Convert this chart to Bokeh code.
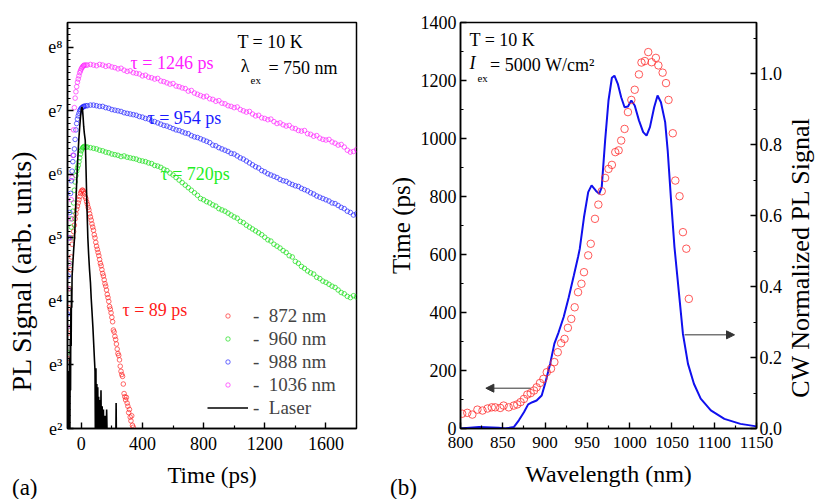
import math
from bokeh.plotting import figure
from bokeh.models import (Range1d, LinearAxis, FixedTicker, Label, Legend, LegendItem,
                          Arrow, NormalHead, PrintfTickFormatter, Div)
from bokeh.layouts import row, column
from bokeh.embed import file_html
from bokeh.resources import INLINE

FONT = "Liberation Serif"
NB = "\u00a0"

# ---------------- panel (a): ln(PL signal) vs time ----------------
t_rise = [-90, -85, -80, -75, -70, -65, -60, -55, -50, -45, -40, -35, -30, -25, -20, -15,
          -10, -5, 0, 5, 10, 15, 20, 30]
t_tail = [40, 60, 80, 100, 120, 140, 160, 180, 200, 220,
          240, 260, 280, 300, 320, 340, 360, 380, 400, 420,
          440, 460, 480, 500, 520, 540, 560, 580, 600, 620,
          640, 660, 680, 700, 720, 740, 760, 780, 800, 820,
          840, 860, 880, 900, 920, 940, 960, 980, 1000, 1020,
          1040, 1060, 1080, 1100, 1120, 1140, 1160, 1180, 1200, 1220,
          1240, 1260, 1280, 1300, 1320, 1340, 1360, 1380, 1400, 1420,
          1440, 1460, 1480, 1500, 1520, 1540, 1560, 1580, 1600, 1620,
          1640, 1660, 1680, 1700, 1720, 1740, 1760, 1780, 1800]

nm1036_rise = [3.6, 4.2, 4.6, 5.0, 5.3, 5.6, 5.95, 6.3, 6.7, 7.05, 7.2, 7.3, 7.38, 7.45, 7.5,
               7.55, 7.6, 7.63, 7.66, 7.68, 7.7, 7.71, 7.72, 7.72]
nm1036_tail = [7.72, 7.73, 7.72, 7.71, 7.73, 7.72, 7.70, 7.71, 7.69, 7.68,
               7.66, 7.67, 7.64, 7.62, 7.63, 7.60, 7.59, 7.58, 7.55, 7.56,
               7.53, 7.52, 7.50, 7.51, 7.47, 7.46, 7.44, 7.42, 7.43, 7.39,
               7.38, 7.36, 7.35, 7.31, 7.32, 7.28, 7.26, 7.24, 7.22, 7.23,
               7.19, 7.18, 7.15, 7.16, 7.12, 7.11, 7.08, 7.07, 7.05, 7.06,
               7.02, 7.00, 6.98, 6.99, 6.95, 6.92, 6.93, 6.89, 6.88, 6.86,
               6.87, 6.83, 6.80, 6.81, 6.78, 6.76, 6.77, 6.73, 6.72, 6.69,
               6.68, 6.69, 6.64, 6.63, 6.60, 6.61, 6.57, 6.55, 6.54, 6.55,
               6.51, 6.49, 6.46, 6.47, 6.43, 6.38, 6.35, 6.36, 6.39]

nm988_rise = [3.8, 4.4, 5.0, 5.4, 5.7, 5.9, 6.05, 6.2, 6.3, 6.4, 6.55, 6.7, 6.8, 6.87, 6.92,
              6.96, 7.0, 7.02, 7.04, 7.05, 7.06, 7.07, 7.07, 7.08]
nm988_tail = [7.08, 7.09, 7.09, 7.08, 7.07, 7.07, 7.05, 7.04, 7.02, 7.01,
              7.00, 6.99, 6.97, 6.96, 6.95, 6.94, 6.93, 6.91, 6.90, 6.88,
              6.87, 6.84, 6.83, 6.81, 6.79, 6.77, 6.76, 6.74, 6.72, 6.70,
              6.69, 6.67, 6.65, 6.64, 6.61, 6.59, 6.58, 6.56, 6.54, 6.52,
              6.50, 6.46, 6.45, 6.42, 6.40, 6.38, 6.36, 6.33, 6.32, 6.29,
              6.26, 6.24, 6.21, 6.18, 6.15, 6.12, 6.10, 6.06, 6.04, 6.01,
              5.99, 5.97, 5.95, 5.92, 5.90, 5.89, 5.86, 5.84, 5.82, 5.81,
              5.78, 5.76, 5.74, 5.71, 5.69, 5.66, 5.64, 5.62, 5.60, 5.58,
              5.55, 5.54, 5.51, 5.48, 5.46, 5.42, 5.40, 5.36, 5.38]

nm960_rise = [3.2, 3.6, 4.2, 4.6, 5.0, 5.17, 5.3, 5.42, 5.55, 5.75, 5.88, 5.98, 6.05, 6.1,
              6.14, 6.2, 6.26, 6.32, 6.37, 6.4, 6.42, 6.43, 6.44, 6.43]
nm960_tail = [6.43, 6.42, 6.41, 6.40, 6.38, 6.37, 6.35, 6.34, 6.32, 6.31,
              6.30, 6.28, 6.29, 6.27, 6.26, 6.25, 6.24, 6.22, 6.21, 6.20,
              6.18, 6.17, 6.14, 6.13, 6.11, 6.08, 6.06, 6.02, 5.99, 5.95,
              5.91, 5.87, 5.83, 5.79, 5.75, 5.71, 5.67, 5.62, 5.60, 5.57,
              5.55, 5.52, 5.50, 5.46, 5.44, 5.42, 5.39, 5.36, 5.33, 5.31,
              5.26, 5.24, 5.20, 5.17, 5.14, 5.11, 5.08, 5.05, 5.01, 4.97,
              4.95, 4.90, 4.87, 4.84, 4.80, 4.77, 4.72, 4.70, 4.63, 4.60,
              4.55, 4.52, 4.48, 4.45, 4.43, 4.38, 4.36, 4.32, 4.30, 4.27,
              4.24, 4.22, 4.18, 4.14, 4.12, 4.08, 4.06, 4.09, 4.07]

t_872 = [-90, -85, -80, -75, -70, -65, -60, -55, -50, -45,
         -40, -35, -30, -25, -20, -15, -10, -5, 0, 5,
         10, 15, 20, 25, 30, 35, 40, 45, 50, 55,
         60, 65, 70, 75, 80, 85, 90, 95, 100, 105,
         110, 115, 120, 125, 130, 135, 140, 145, 150, 155,
         160, 165, 170, 175, 180, 185, 190, 195, 200, 205,
         210, 215, 220, 225, 230, 235, 240, 245, 250, 255,
         260, 265, 270, 275, 280, 285, 290, 295, 300, 305,
         310, 315, 320, 325, 330, 335, 340]
nm872 = [3.1, 3.5, 3.9, 4.2, 4.5, 4.7, 4.9, 5.0, 5.1, 5.2,
         5.3, 5.38, 5.45, 5.5, 5.55, 5.6, 5.65, 5.7, 5.73, 5.75,
         5.75, 5.73, 5.70, 5.65, 5.62, 5.57, 5.53, 5.48, 5.44, 5.38,
         5.33, 5.28, 5.22, 5.17, 5.12, 5.05, 5.00, 4.93, 4.87, 4.82,
         4.77, 4.72, 4.66, 4.60, 4.56, 4.50, 4.44, 4.40, 4.34, 4.28,
         4.24, 4.18, 4.11, 4.06, 4.00, 3.92, 3.88, 3.82, 3.75, 3.68,
         3.55, 3.52, 3.45, 3.40, 3.33, 3.25, 3.18, 3.15, 3.08, 2.98,
         2.90, 2.85, 2.82, 2.70, 2.55, 2.50, 2.45, 2.49, 2.40, 2.35,
         2.25, 2.30, 2.18, 2.12, 2.20, 2.05, 2.02]

laser_t = [-90, -88, -86, -84, -82, -80, -78, -76, -74, -72,
           -70, -68, -66, -64, -62, -60, -55, -50, -44, -38,
           -33, -28, -22, -16, -10, -5, 0, 4, 8, 12,
           16, 20, 26, 30, 35, 40, 43, 48, 54, 60,
           65, 70, 76, 81, 87, 90, 93, 96, 99, 102,
           105, 108, 111, 114, 117, 121, 125, 129, 133, 137,
           141, 145, 150, 155, 160, 166, 172, 180, 225, 228,
           231, 300]
laser_ln = [1.5, 2.6, 1.5, 2.9, 1.5, 2.4, 1.5, 3.1, 2.0, 3.4,
            2.6, 3.9, 3.3, 4.2, 3.9, 4.4, 4.6, 4.8, 5.0, 5.35,
            5.7, 5.98, 6.28, 6.55, 6.75, 6.9, 7.02, 7.06, 7.03, 6.9,
            6.75, 6.65, 6.54, 6.2, 5.7, 5.25, 5.0, 4.75, 4.5, 4.3,
            4.05, 3.85, 3.6, 3.35, 3.05, 2.9, 1.5, 2.95, 1.5, 2.7,
            1.5, 2.65, 1.5, 2.5, 1.5, 2.45, 1.5, 2.6, 1.5, 2.35,
            1.5, 2.3, 1.5, 2.2, 1.5, 2.3, 1.5, 1.5, 1.5, 2.4,
            1.5, 1.5]

ln_ticks = [2, 3, 4, 5, 6, 7, 8]
ln_tick_labels = ["e\u00b2", "e\u00b3", "e\u2074", "e\u2075", "e\u2076", "e\u2077", "e\u2078"]
time_ticks = [0, 400, 800, 1200, 1600]

# ---------------- panel (b): decay time & CW PL vs wavelength ----------------
wl_tr = [802, 808, 814, 820, 826, 832, 837, 841, 847, 851,
         857, 863, 867, 871, 875, 879, 883, 887, 890, 894,
         898, 902, 907, 911, 915, 919, 923, 927, 931, 935,
         939, 943, 946, 951, 954, 959, 963, 967, 971, 975,
         979, 983, 987, 990, 994, 998, 1002, 1006, 1011, 1014,
         1018, 1022, 1026, 1031, 1034, 1039, 1043, 1046, 1051, 1054,
         1059, 1063, 1067, 1070]
time_tr = [51, 54, 48, 65, 62, 69, 73, 73, 71, 79,
           73, 79, 83, 91, 102, 117, 122, 131, 142, 157,
           171, 194, 206, 229, 263, 294, 309, 347, 378, 418,
           470, 499, 539, 597, 637, 723, 772, 818, 864, 895,
           909, 953, 959, 993, 1033, 1091, 1133, 1168, 1221, 1262,
           1267, 1298, 1263, 1278, 1252, 1227, 1191, 1133, 1018, 855,
           801, 677, 620, 447]

wl_cw = [800, 822, 845, 853, 863, 869, 875, 880, 885, 890,
         896, 900, 906, 911, 916, 922, 928, 934, 939, 941,
         946, 951, 955, 960, 964, 967, 971, 975, 979, 982,
         986, 990, 994, 998, 1002, 1006, 1011, 1016, 1020, 1024,
         1029, 1033, 1037, 1042, 1045, 1049, 1053, 1058, 1063, 1069,
         1076, 1084, 1096, 1112, 1131, 1150]
cw_pl = [0.0, 0.004, 0.002, 0.0, 0.004, 0.023, 0.046, 0.068, 0.074, 0.079,
         0.093, 0.126, 0.182, 0.239, 0.271, 0.314, 0.37, 0.431, 0.483, 0.506,
         0.595, 0.666, 0.685, 0.670, 0.661, 0.68, 0.811, 0.924, 0.988, 0.994,
         0.971, 0.933, 0.905, 0.907, 0.924, 0.91, 0.868, 0.835, 0.825, 0.849,
         0.905, 0.938, 0.919, 0.863, 0.783, 0.642, 0.511, 0.389, 0.267, 0.182,
         0.126, 0.084, 0.051, 0.027, 0.013, 0.006]

wl_ticks = [800, 850, 900, 950, 1000, 1050, 1100, 1150]
ps_ticks = [0, 200, 400, 600, 800, 1000, 1200, 1400]
cw_ticks = [0.0, 0.2, 0.4, 0.6, 0.8, 1.0]


def style_axis(ax, tick_size="18px"):
    ax.axis_label_text_font = FONT
    ax.axis_label_text_font_size = "23px"
    ax.axis_label_text_font_style = "normal"
    ax.axis_label_text_color = "black"
    ax.major_label_text_font = FONT
    ax.major_label_text_font_size = tick_size
    ax.major_label_text_color = "black"
    ax.axis_line_width = 1.5
    ax.axis_line_color = "black"
    ax.major_tick_in = 6
    ax.major_tick_out = 0
    ax.minor_tick_in = 3
    ax.minor_tick_out = 0
    ax.major_tick_line_width = 1.4
    ax.minor_tick_line_width = 1.2
    ax.major_tick_line_color = "black"
    ax.minor_tick_line_color = "black"


def lbl(p, x, y, text, size="18px", color="black", style="normal", **kw):
    p.add_layout(Label(x=x, y=y, text=text, text_font=FONT, text_font_size=size,
                       text_color=color, text_font_style=style, text_baseline="middle", **kw))


# ================= panel (a) =================
pa = figure(width=384, height=499, x_range=Range1d(-90, 1800), y_range=Range1d(2, 8.39),
            output_backend="svg", toolbar_location=None,
            min_border_left=67, min_border_right=28, min_border_top=22, min_border_bottom=71)
pa.grid.visible = False
pa.outline_line_color = "black"
pa.outline_line_width = 1.5
pa.border_fill_alpha = 0

pa.xaxis.ticker = FixedTicker(ticks=time_ticks, minor_ticks=[200, 600, 1000, 1400])
pa.yaxis.ticker = FixedTicker(ticks=ln_ticks, minor_ticks=[2 + 0.1 * i for i in range(1, 64)])
pa.yaxis.major_label_overrides = dict(zip(ln_ticks, ln_tick_labels))
pa.xaxis.axis_label = "Time (ps)"
pa.yaxis.axis_label = "PL Signal (arb. units)" + NB * 13
style_axis(pa.xaxis[0])
style_axis(pa.yaxis[0])
pa.yaxis.axis_label_text_font_size = "28px"
pa.xaxis.major_label_standoff = 8
pa.xaxis.axis_label_standoff = 10
pa.yaxis.major_label_standoff = 5
pa.yaxis.axis_label_standoff = 8

circ = dict(marker="circle", size=4.6, fill_alpha=0, line_width=0.9, line_alpha=0.75)
r872 = pa.scatter(t_872, nm872, line_color="#ff2020", **circ)
r960 = pa.scatter(t_rise + t_tail, nm960_rise + nm960_tail, line_color="#10dd10", **circ)
r988 = pa.scatter(t_rise + t_tail, nm988_rise + nm988_tail, line_color="#2020ff", **circ)
r1036 = pa.scatter(t_rise + t_tail, nm1036_rise + nm1036_tail, line_color="#ff20ff", **circ)
rlas = pa.line(laser_t, laser_ln, line_color="black", line_width=1.6)

leg = Legend(items=[LegendItem(label="-  872 nm", renderers=[r872]),
                    LegendItem(label="-  960 nm", renderers=[r960]),
                    LegendItem(label="-  988 nm", renderers=[r988]),
                    LegendItem(label="-  1036 nm", renderers=[r1036]),
                    LegendItem(label="-  Laser", renderers=[rlas])],
             location=(140, 9), padding=0, margin=0, spacing=0,
             glyph_width=41, glyph_height=11, label_height=23, label_standoff=5,
             label_text_font=FONT, label_text_font_size="19px",
             background_fill_alpha=0, border_line_alpha=0)
pa.add_layout(leg, "center")

lbl(pa, 1021, 8.08, "T = 10 K")
lbl(pa, 1043, 7.70, "\u03bb")
lbl(pa, 1107, 7.48, "ex", size="11px")
lbl(pa, 1224, 7.67, "= 750 nm")
lbl(pa, 322, 7.75, "\u03c4 = 1246 ps", color="#ff20ff")
lbl(pa, 433, 6.88, "\u03c4 = 954 ps", color="#1a1aff")
lbl(pa, 518, 6.00, "\u03c4 = 720ps", color="#22ee22")
lbl(pa, 269, 3.87, "\u03c4 = 89 ps", color="#ff1a1a")

# ================= panel (b) =================
pb = figure(width=432, height=499, x_range=Range1d(800, 1150), y_range=Range1d(0, 1400),
            output_backend="svg", toolbar_location=None,
            min_border_left=74, min_border_right=60, min_border_top=22, min_border_bottom=71)
pb.grid.visible = False
pb.outline_line_color = "black"
pb.outline_line_width = 1.5
pb.border_fill_alpha = 0
pb.extra_y_ranges = {"cw": Range1d(0, 1.1437)}

pb.xaxis.ticker = FixedTicker(ticks=wl_ticks, minor_ticks=[825, 875, 925, 975, 1025, 1075, 1125])
pb.yaxis.ticker = FixedTicker(ticks=ps_ticks, minor_ticks=[100, 300, 500, 700, 900, 1100, 1300])
pb.xaxis.axis_label = "Wavelength (nm)"
pb.yaxis.axis_label = "Time (ps)"
style_axis(pb.xaxis[0], tick_size="17px")
style_axis(pb.yaxis[0])
pb.xaxis.axis_label_text_font_size = "24px"
pb.yaxis.axis_label_text_font_size = "25px"
pb.xaxis.major_label_standoff = 8
pb.xaxis.axis_label_standoff = 10
pb.yaxis.major_label_standoff = 4
pb.yaxis.axis_label_standoff = 3

rax = LinearAxis(y_range_name="cw",
                 ticker=FixedTicker(ticks=cw_ticks, minor_ticks=[0.1, 0.3, 0.5, 0.7, 0.9, 1.1]),
                 formatter=PrintfTickFormatter(format="%.1f"))
style_axis(rax)
rax.major_label_standoff = 3
pb.add_layout(rax, "right")

pb.line(wl_cw, cw_pl, y_range_name="cw", line_color="#1010ee", line_width=2)
pb.scatter(wl_tr, time_tr, marker="circle", size=7.5, fill_alpha=0,
           line_color="#ff3030", line_width=1, line_alpha=0.8)

pb.add_layout(Arrow(end=NormalHead(size=8, fill_color="#333333", line_color="#333333"),
                    x_start=883, y_start=139, x_end=830, y_end=139,
                    line_color="#333333", line_width=1))
pb.add_layout(Arrow(end=NormalHead(size=8, fill_color="#333333", line_color="#333333"),
                    x_start=1065, y_start=323, x_end=1124, y_end=323,
                    line_color="#333333", line_width=1))

lbl(pb, 810.6, 1338, "T = 10 K")
lbl(pb, 810.6, 1259, "I", style="italic")
lbl(pb, 820, 1210, "ex", size="11px")
lbl(pb, 835, 1252, "= 5000 W/cm\u00b2")

# panel tags (a) / (b) and the right-axis title, overlaid on the figures
tag_style = {"font-family": FONT, "font-size": "23px", "color": "black",
             "line-height": "22px", "position": "relative", "z-index": "10",
             "white-space": "nowrap", "overflow": "visible"}
tag_a = Div(text="(a)", width=40, height=22, margin=(0, 0, 0, 12), styles=tag_style)
tag_b = Div(text="(b)", width=40, height=22, margin=(0, 0, 0, 338), styles=tag_style)
cw_style = dict(tag_style)
cw_style.update({"font-size": "26px", "text-align": "center",
                 "transform": "translate(171px, -230px) rotate(-90deg)",
                 "transform-origin": "50% 50%"})
tag_cw = Div(text="CW Normalized PL Signal", width=300, height=22, margin=(0, 0, 0, 50),
             styles=cw_style)
tags = row(tag_a, tag_b, tag_cw, margin=(-22, 0, 0, 0), height=22)

layout = column(row(pa, pb), tags)
open("out.html", "w").write(file_html(layout, INLINE))
